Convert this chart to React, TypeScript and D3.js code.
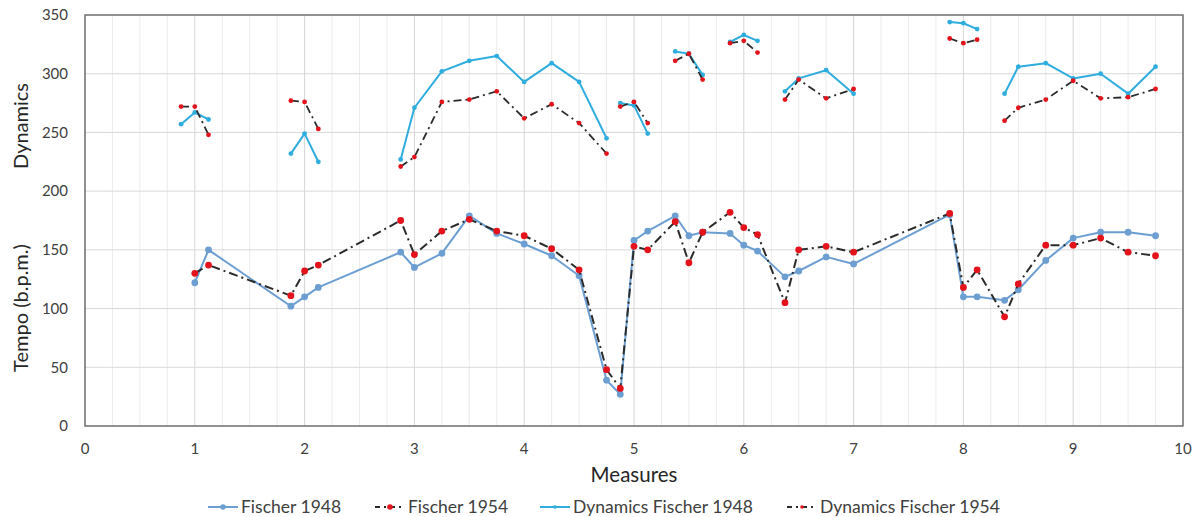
import React from 'react';
import * as d3 from 'd3';

// measure positions of the tempo readings
const measures = [1, 1.125, 1.875, 2, 2.125, 2.875, 3, 3.25, 3.5, 3.75, 4, 4.25, 4.5, 4.75, 4.875, 5, 5.125, 5.375, 5.5, 5.625, 5.875, 6, 6.125, 6.375, 6.5, 6.75, 7, 7.875, 8, 8.125, 8.375, 8.5, 8.75, 9, 9.25, 9.5, 9.75];
const fischer1948 = [122, 150, 102, 110, 118, 148, 135, 147, 179, 164, 155, 145, 128, 39, 27, 158, 166, 179, 162, 165, 164, 154, 149, 127, 132, 144, 138, 180, 110, 110, 107, 116, 141, 160, 165, 165, 162];
const fischer1954 = [130, 137, 111, 132, 137, 175, 146, 166, 176, 166, 162, 151, 133, 48, 32, 153, 150, 174, 139, 165, 182, 169, 163, 105, 150, 153, 148, 181, 118, 133, 93, 121, 154, 154, 160, 148, 145];

// dynamics readings, null = break in the line
const dynMeasures = [0.875, 1, 1.125, null, 1.875, 2, 2.125, null, 2.875, 3, 3.25, 3.5, 3.75, 4, 4.25, 4.5, 4.75, null, 4.875, 5, 5.125, null, 5.375, 5.5, 5.625, null, 5.875, 6, 6.125, null, 6.375, 6.5, 6.75, 7, null, 7.875, 8, 8.125, null, 8.375, 8.5, 8.75, 9, 9.25, 9.5, 9.75];
const dynFischer1948 = [257, 267, 261, null, 232, 249, 225, null, 227, 271, 302, 311, 315, 293, 309, 293, 245, null, 275, 273, 249, null, 319, 317, 299, null, 327, 333, 328, null, 285, 296, 303, 283, null, 344, 343, 338, null, 283, 306, 309, 296, 300, 283, 306];
const dynFischer1954 = [272, 272, 248, null, 277, 276, 253, null, 221, 229, 276, 278, 285, 262, 274, 258, 232, null, 272, 276, 258, null, 311, 317, 295, null, 326, 328, 318, null, 278, 295, 279, 287, null, 330, 326, 329, null, 260, 271, 278, 294, 279, 280, 287];

const xTicks = [0, 1, 2, 3, 4, 5, 6, 7, 8, 9, 10];
const yTicks = [0, 50, 100, 150, 200, 250, 300, 350];
const seriesNames = ['Fischer 1948', 'Fischer 1954', 'Dynamics Fischer 1948', 'Dynamics Fischer 1954'];

const W = 1201;
const H = 517;
const margin = { top: 15, right: 18, bottom: 91, left: 85 };
const FONT = 'Lato, "Open Sans", sans-serif';

const BLUE = '#6c9ed2';
const CYAN = '#2fadde';
const RED = '#e3121b';
const DASH = '#2b2b2b';

type Pt = { x: number; y: number };

const toPoints = (xs: (number | null)[], ys: (number | null)[]): (Pt | null)[] =>
  xs.map((x, i) => (x == null || ys[i] == null ? null : { x, y: ys[i] as number }));

export default function App() {
  const iw = W - margin.left - margin.right;
  const ih = H - margin.top - margin.bottom;

  const x = d3.scaleLinear().domain([0, 10]).range([0, iw]);
  const y = d3.scaleLinear().domain([0, 350]).range([ih, 0]);

  const line = d3.line<Pt | null>()
    .defined((d) => d != null)
    .x((d) => x((d as Pt).x))
    .y((d) => y((d as Pt).y));

  const series = [
    { name: seriesNames[0], pts: toPoints(measures, fischer1948), stroke: BLUE, width: 2, dash: undefined, marker: BLUE, r: 3.4 },
    { name: seriesNames[1], pts: toPoints(measures, fischer1954), stroke: DASH, width: 2, dash: '9,4,2,4', marker: RED, r: 3.4 },
    { name: seriesNames[2], pts: toPoints(dynMeasures, dynFischer1948), stroke: CYAN, width: 2, dash: undefined, marker: CYAN, r: 2.4 },
    { name: seriesNames[3], pts: toPoints(dynMeasures, dynFischer1954), stroke: DASH, width: 1.8, dash: '8,4,2,4', marker: RED, r: 2.4 },
  ];

  const minorX = d3.range(0, 10.001, 0.25).filter((v) => Math.abs(v - Math.round(v)) > 0.01);

  // legend slots (sample start x)
  const legendX = [208, 375, 540, 787];
  const legendY = 507;

  return (
    <svg width={W} height={H} style={{ position: 'absolute', left: 0, top: 0, background: '#fff' }} fontFamily={FONT}>
      <g transform={`translate(${margin.left},${margin.top})`}>
        {/* grid */}
        {minorX.map((v) => (
          <line key={'mx' + v} x1={x(v)} x2={x(v)} y1={0} y2={ih} stroke="#ececec" strokeWidth={1} />
        ))}
        {xTicks.slice(1, -1).map((v) => (
          <line key={'gx' + v} x1={x(v)} x2={x(v)} y1={0} y2={ih} stroke="#d6d6d6" strokeWidth={1} />
        ))}
        {yTicks.slice(1, -1).map((v) => (
          <line key={'gy' + v} x1={0} x2={iw} y1={y(v)} y2={y(v)} stroke="#d9d9d9" strokeWidth={1} />
        ))}
        <rect x={0} y={0} width={iw} height={ih} fill="none" stroke="#6e6e6e" strokeWidth={1.5} />

        {/* ticks */}
        {yTicks.map((v) => (
          <text key={'ty' + v} x={-17} y={y(v)} dy="0.35em" textAnchor="end" fontSize={15} fill="#404040">{v}</text>
        ))}
        {xTicks.map((v) => (
          <text key={'tx' + v} x={x(v)} y={ih + 23} dy="0.35em" textAnchor="middle" fontSize={15} fill="#404040">{v}</text>
        ))}

        {/* series */}
        {series.map((s) => (
          <g key={s.name}>
            <path d={line(s.pts) || ''} fill="none" stroke={s.stroke} strokeWidth={s.width} strokeDasharray={s.dash} strokeLinejoin="round" />
            {s.pts.filter((p) => p != null).map((p, i) => (
              <circle key={i} cx={x((p as Pt).x)} cy={y((p as Pt).y)} r={s.r} fill={s.marker} />
            ))}
          </g>
        ))}
      </g>

      {/* axis titles */}
      <text x={634} y={475} dy="0.35em" textAnchor="middle" fontSize={20.5} fill="#262626">Measures</text>
      <text transform="translate(21,126) rotate(-90)" dy="0.35em" textAnchor="middle" fontSize={20} fill="#262626">Dynamics</text>
      <text transform="translate(21,308) rotate(-90)" dy="0.35em" textAnchor="middle" fontSize={20} fill="#262626">Tempo (b.p.m.)</text>

      {/* legend */}
      {series.map((s, i) => (
        <g key={'lg' + i} transform={`translate(${legendX[i]},${legendY})`}>
          <line x1={0} x2={30} y1={0} y2={0} stroke={s.stroke} strokeWidth={s.width} strokeDasharray={s.dash ? '5,4,2,4' : undefined} />
          <circle cx={15} cy={0} r={s.r - 0.6} fill={s.marker} />
          <text x={33} y={0} dy="0.35em" fontSize={17.5} fill="#404040">{s.name}</text>
        </g>
      ))}
    </svg>
  );
}
